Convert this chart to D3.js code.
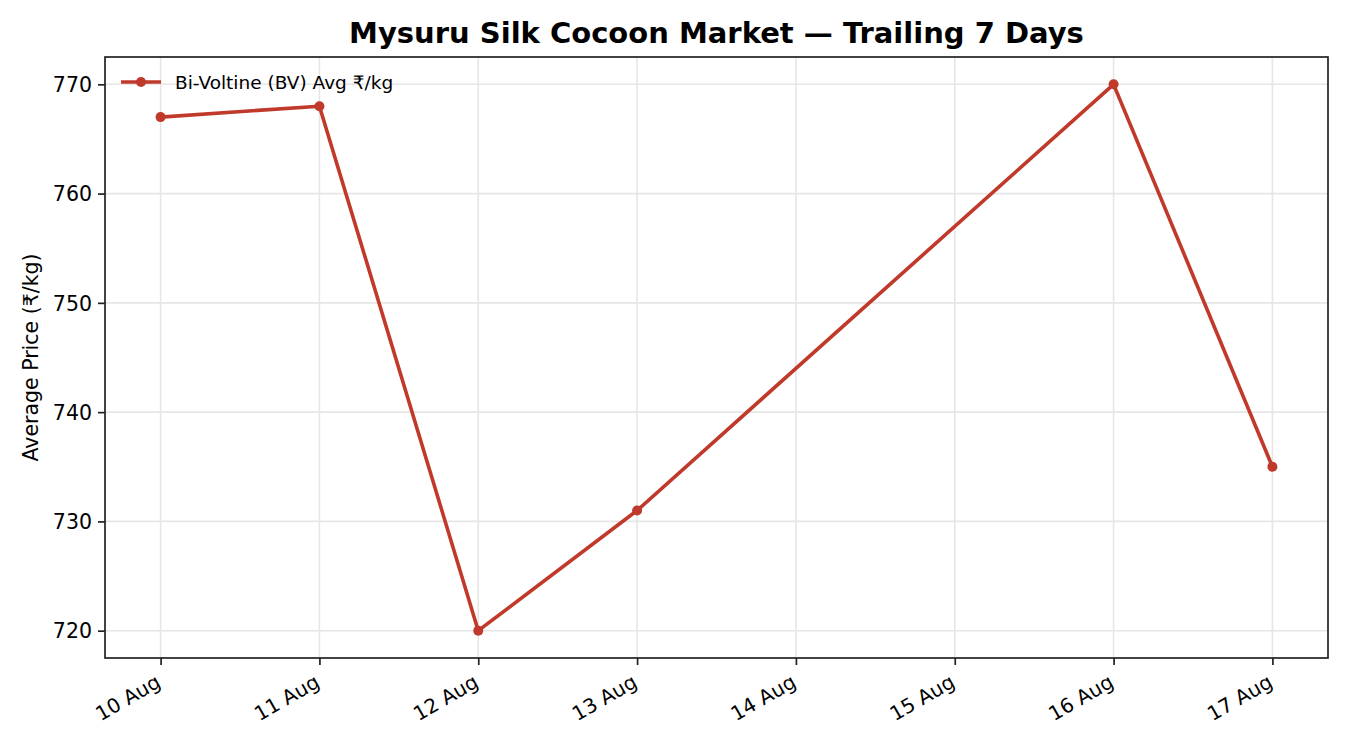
<!DOCTYPE html>
<html><head><meta charset="utf-8">
<script src="https://cdn.jsdelivr.net/npm/d3@7"></script>
<style>body{margin:0;background:#fff;} text{font-family:"DejaVu Sans",sans-serif;}</style>
</head><body>
<svg id="c" width="1350" height="750"></svg>
<script>
const dates = ["2024-08-10","2024-08-11","2024-08-12","2024-08-13","2024-08-16","2024-08-17"];
const prices = [767, 768, 720, 731, 770, 735];
const yTicks = [720, 730, 740, 750, 760, 770];
const seriesName = "Bi-Voltine (BV) Avg ₹/kg";
const color = "#c0392b";

const parse = d3.utcParse("%Y-%m-%d");
const data = dates.map((d,i)=>({date:parse(d), v:prices[i]}));
const svg = d3.select("#c");
const L=105, R=1328, T=57, B=658;
const dMin = parse("2024-08-10"), dMax = parse("2024-08-17");
const span = dMax - dMin;
const x = d3.scaleUtc().domain([new Date(+dMin - span*0.05), new Date(+dMax + span*0.05)]).range([L,R]);
const y = d3.scaleLinear().domain([717.5, 772.5]).range([B,T]);

const xTicks = d3.utcDay.range(dMin, new Date(+dMax+1));
const gridCol = "#e6e6e6";
svg.append("g").selectAll("line").data(xTicks).join("line")
  .attr("x1",d=>x(d)).attr("x2",d=>x(d)).attr("y1",T).attr("y2",B)
  .attr("stroke",gridCol).attr("stroke-width",1.6);
svg.append("g").selectAll("line").data(yTicks).join("line")
  .attr("x1",L).attr("x2",R).attr("y1",d=>y(d)).attr("y2",d=>y(d))
  .attr("stroke",gridCol).attr("stroke-width",1.6);

// axes
const xa = svg.append("g").attr("transform",`translate(0,${B})`)
  .call(d3.axisBottom(x).tickValues(xTicks).tickFormat(d3.utcFormat("%d %b")).tickSize(7).tickSizeOuter(0));
xa.select(".domain").remove();
xa.selectAll("line").attr("stroke","#222").attr("stroke-width",1.7);
xa.selectAll("text").attr("font-size",20).attr("fill","#000")
  .attr("text-anchor","end").attr("dy",null).attr("y",0)
  .attr("transform","translate(1,28) rotate(-30)");
const ya = svg.append("g").attr("transform",`translate(${L},0)`)
  .call(d3.axisLeft(y).tickValues(yTicks).tickSize(7).tickSizeOuter(0));
ya.select(".domain").remove();
ya.selectAll("line").attr("stroke","#222").attr("stroke-width",1.7);
ya.selectAll("text").attr("font-size",20.5).attr("fill","#000").attr("x",-13).attr("dy","0.35em");

svg.append("rect").attr("x",L).attr("y",T).attr("width",R-L).attr("height",B-T)
  .attr("fill","none").attr("stroke","#222").attr("stroke-width",1.7);

// line
svg.append("path").datum(data)
  .attr("d", d3.line().x(d=>x(d.date)).y(d=>y(d.v)))
  .attr("fill","none").attr("stroke",color).attr("stroke-width",3.6).attr("stroke-linejoin","round");
svg.append("g").selectAll("circle").data(data).join("circle")
  .attr("cx",d=>x(d.date)).attr("cy",d=>y(d.v)).attr("r",5).attr("fill",color);

// legend
svg.append("line").attr("x1",121).attr("x2",161).attr("y1",82).attr("y2",82).attr("stroke",color).attr("stroke-width",3.6);
svg.append("circle").attr("cx",141).attr("cy",82).attr("r",5).attr("fill",color);
svg.append("text").attr("x",175).attr("y",88.5).attr("font-size",18.5).text(seriesName);

// title & labels
svg.append("text").attr("x",(L+R)/2).attr("y",43).attr("text-anchor","middle")
  .attr("font-size",29).attr("font-weight","bold").text("Mysuru Silk Cocoon Market — Trailing 7 Days");
svg.append("text").attr("transform",`translate(38,${(T+B)/2}) rotate(-90)`).attr("text-anchor","middle")
  .attr("font-size",20.5).text("Average Price (₹/kg)");
</script>
</body></html>
